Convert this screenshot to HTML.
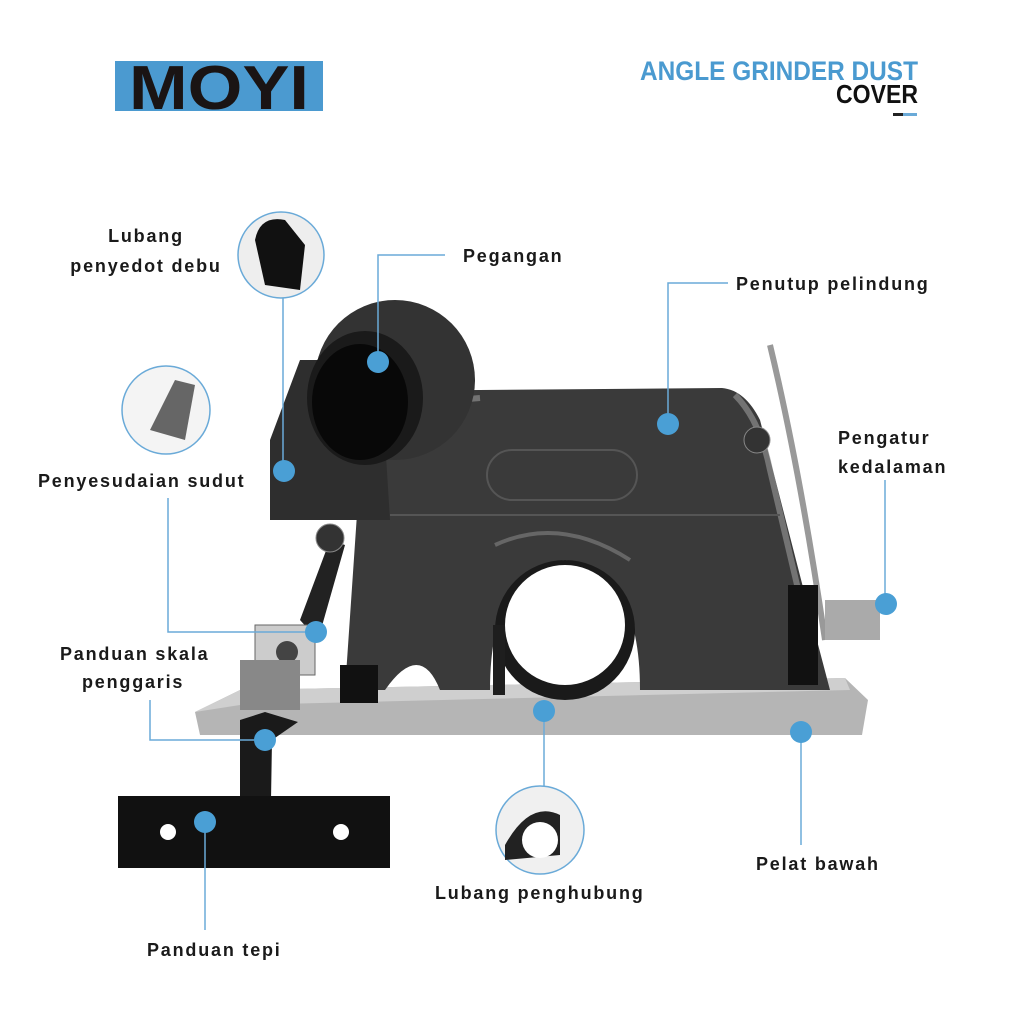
<!DOCTYPE html>
<html><head><meta charset="utf-8"><style>
html,body{margin:0;padding:0;background:#fff}
svg{display:block}
.t{font-family:"Liberation Sans",sans-serif;font-weight:bold;font-size:18px;letter-spacing:1.8px;fill:#1a1a1a}
.l{stroke:#6aaad8;stroke-width:1.5;fill:none}
.d{fill:#4a9fd5}
</style></head><body>
<svg width="1024" height="1024" viewBox="0 0 1024 1024" xmlns="http://www.w3.org/2000/svg">
<rect width="1024" height="1024" fill="#fff"/>
<!-- logo -->
<rect x="115" y="61" width="208" height="50" fill="#4b9ad0"/>
<text x="219" y="109" text-anchor="middle" font-family="Liberation Sans,sans-serif" font-weight="bold" font-size="62" fill="#1a1414" textLength="180" lengthAdjust="spacingAndGlyphs">MOYI</text>
<text x="918" y="80" text-anchor="end" font-family="Liberation Sans,sans-serif" font-weight="bold" font-size="27" fill="#4a9ad0" textLength="278" lengthAdjust="spacingAndGlyphs">ANGLE GRINDER DUST</text>
<text x="918" y="103" text-anchor="end" font-family="Liberation Sans,sans-serif" font-weight="bold" font-size="26" fill="#111" textLength="82" lengthAdjust="spacingAndGlyphs">COVER</text>
<rect x="893" y="113" width="10" height="3" fill="#222"/><rect x="903" y="113" width="14" height="3" fill="#6aaad8"/>

<!-- depth lever -->
<path d="M770 345 Q800 470 825 640" stroke="#999" stroke-width="6" fill="none"/>
<rect x="825" y="600" width="55" height="40" fill="#aaa"/>
<!-- base plate -->
<polygon points="195,712 240,690 845,678 868,700 862,735 200,735" fill="#b5b5b5"/>
<polygon points="195,712 240,690 845,678 850,690 240,705" fill="#cfcfcf"/>
<!-- housing -->
<path d="M360,470 L390,400 Q400,390 480,390 L722,388 Q745,390 760,420 L805,595 L830,690 L640,690 Q640,570 565,560 Q490,570 490,690 L440,690 Q420,640 385,690 L345,690 Z" fill="#3a3a3a"/>
<path d="M375,480 L395,405 L480,398 M735,395 Q760,420 770,470 L810,640" stroke="#999" stroke-width="6" fill="none" opacity=".6"/>
<rect x="487" y="450" width="150" height="50" rx="25" fill="none" stroke="#555" stroke-width="2"/>
<line x1="390" y1="515" x2="780" y2="515" stroke="#555" stroke-width="2"/>
<path d="M495 545 Q560 515 630 560" stroke="#666" stroke-width="4" fill="none"/>
<circle cx="565" cy="630" r="70" fill="#1a1a1a"/>
<circle cx="565" cy="625" r="60" fill="#fff"/>
<rect x="493" y="625" width="12" height="70" fill="#1e1e1e"/>
<rect x="340" y="665" width="38" height="38" fill="#111"/>
<rect x="788" y="585" width="30" height="100" fill="#111"/>
<!-- dust port -->
<polygon points="270,440 300,360 380,360 390,520 270,520" fill="#2e2e2e"/>
<circle cx="395" cy="380" r="80" fill="#333"/>
<ellipse cx="365" cy="398" rx="58" ry="67" fill="#1a1a1a"/>
<ellipse cx="360" cy="402" rx="48" ry="58" fill="#080808"/>
<!-- left mechanism -->
<polygon points="300,620 330,540 345,545 318,640" fill="#222"/>
<rect x="255" y="625" width="60" height="50" fill="#ccc" stroke="#666"/>
<circle cx="287" cy="652" r="11" fill="#444"/>
<circle cx="330" cy="538" r="14" fill="#333" stroke="#888"/>
<circle cx="757" cy="440" r="13" fill="#333" stroke="#888"/>
<rect x="240" y="660" width="60" height="50" fill="#888"/>
<!-- edge guide -->
<polygon points="240,720 265,712 298,722 272,740 270,860 240,860" fill="#1a1a1a"/>
<rect x="118" y="796" width="272" height="72" fill="#111"/>
<circle cx="168" cy="832" r="8" fill="#fff"/><circle cx="341" cy="832" r="8" fill="#fff"/>

<!-- inset circles -->
<circle cx="281" cy="255" r="43" fill="#eee" stroke="#6aaad8" stroke-width="1.5"/>
<path d="M255 240 Q260 215 285 220 L305 245 L300 290 L265 285 Z" fill="#111"/>
<circle cx="166" cy="410" r="44" fill="#f4f4f4" stroke="#6aaad8" stroke-width="1.5"/>
<path d="M150 430 L175 380 L195 385 L185 440 Z" fill="#666"/>
<circle cx="540" cy="830" r="44" fill="#f0f0f0" stroke="#6aaad8" stroke-width="1.5"/>
<path d="M505 845 Q530 800 560 815 L560 855 L505 860 Z" fill="#222"/>
<circle cx="540" cy="840" r="18" fill="#fff"/>

<!-- leaders -->
<path class="l" d="M283 298 V470"/><circle class="d" cx="284" cy="471" r="11"/>
<path class="l" d="M445 255 H378 V362"/><circle class="d" cx="378" cy="362" r="11"/>
<path class="l" d="M728 283 H668 V424"/><circle class="d" cx="668" cy="424" r="11"/>
<path class="l" d="M885 480 V603"/><circle class="d" cx="886" cy="604" r="11"/>
<path class="l" d="M168 498 V632 H316"/><circle class="d" cx="316" cy="632" r="11"/>
<path class="l" d="M150 700 V740 H265"/><circle class="d" cx="265" cy="740" r="11"/>
<path class="l" d="M205 822 V930"/><circle class="d" cx="205" cy="822" r="11"/>
<path class="l" d="M544 711 V786"/><circle class="d" cx="544" cy="711" r="11"/>
<path class="l" d="M801 732 V845"/><circle class="d" cx="801" cy="732" r="11"/>

<!-- labels -->
<text class="t" x="146" y="242" text-anchor="middle">Lubang</text>
<text class="t" x="146" y="272" text-anchor="middle">penyedot debu</text>
<text class="t" x="463" y="262">Pegangan</text>
<text class="t" x="736" y="290">Penutup pelindung</text>
<text class="t" x="838" y="444">Pengatur</text>
<text class="t" x="838" y="473">kedalaman</text>
<text class="t" x="38" y="487">Penyesudaian sudut</text>
<text class="t" x="60" y="660">Panduan skala</text>
<text class="t" x="82" y="688">penggaris</text>
<text class="t" x="147" y="956">Panduan tepi</text>
<text class="t" x="435" y="899">Lubang penghubung</text>
<text class="t" x="756" y="870">Pelat bawah</text>
</svg>
</body></html>
